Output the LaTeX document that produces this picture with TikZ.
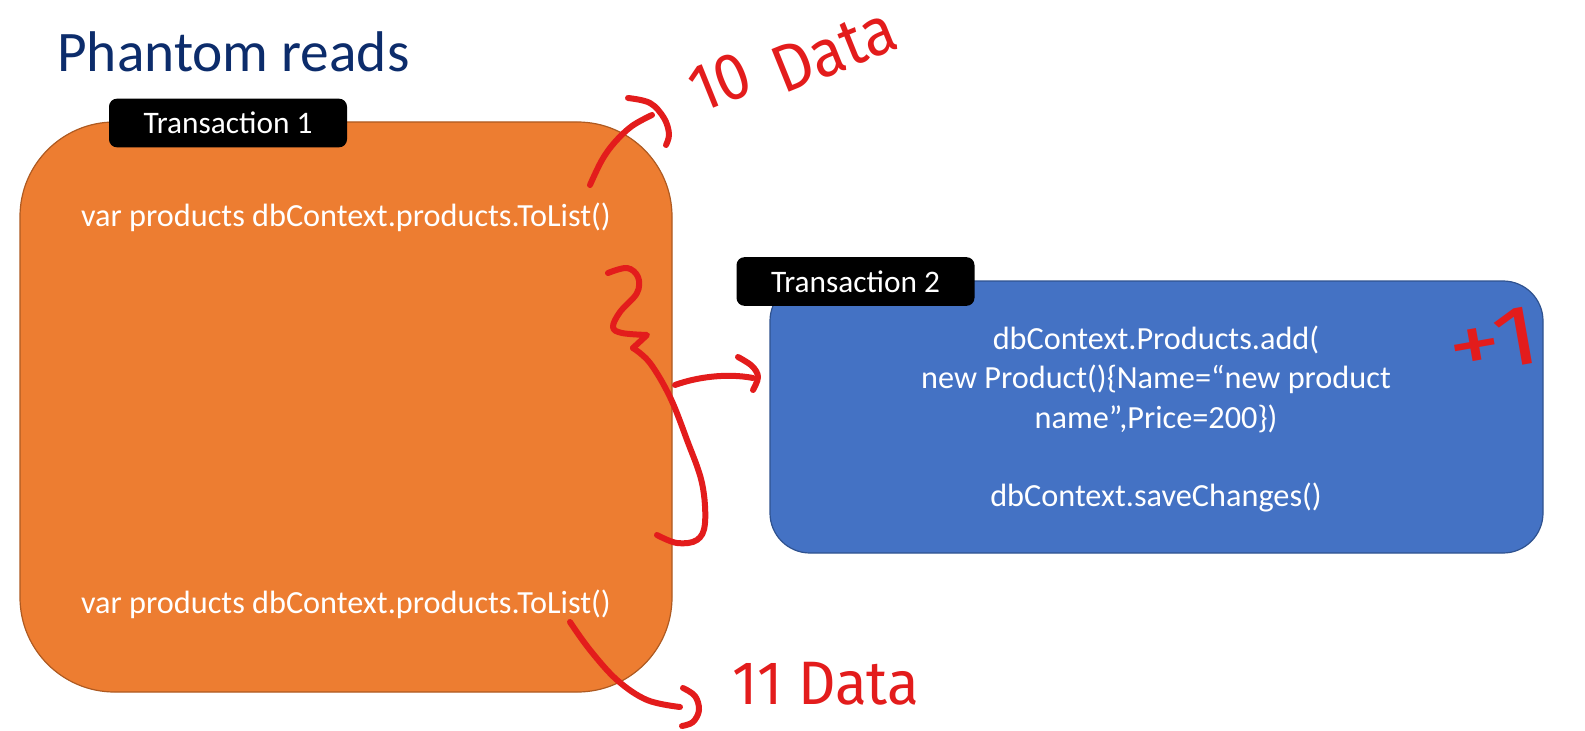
\documentclass[tikz,border=0pt]{standalone}
\usepackage{fontspec}
\setmainfont{Carlito}
\newfontfamily\handfont{Fira Sans}
\definecolor{orfill}{HTML}{ED7D31}
\definecolor{ordraw}{HTML}{AE5A21}
\definecolor{blfill}{HTML}{4472C4}
\definecolor{bldraw}{HTML}{2F528F}
\definecolor{titleblue}{HTML}{0C2C6B}
\definecolor{inkred}{HTML}{E31C1C}
\begin{document}
\begin{tikzpicture}[x=0.75pt,y=-0.75pt,
  ink/.style={draw=inkred,line width=4.5pt,line cap=round,line join=round},
  box/.style={inner sep=0pt,outer sep=0pt,line width=0.9pt},
  tag/.style={fill=black,text=white,rounded corners=6pt,inner sep=0pt,minimum width=178.5pt,minimum height=36.5pt,font=\fontsize{23.5}{28}\selectfont},
  code/.style={text=white,font=\fontsize{24.2}{29.5}\selectfont,align=center,inner sep=0pt},
  hand/.style={text=inkred,font=\handfont\fontsize{50}{50}\selectfont,inner sep=0pt}]
\useasboundingbox[fill=white] (0,0) rectangle (1585,731);
% boxes
\node[box,fill=orfill,draw=ordraw,rounded corners=71pt,minimum width=489pt,minimum height=427.5pt] (t1) at (346,407) {};
\node[box,fill=blfill,draw=bldraw,rounded corners=30pt,minimum width=579.75pt,minimum height=204pt] (t2) at (1156.5,417) {};
\node[tag] (l1) at (228,123) {Transaction 1};
\node[tag] (l2) at (855.5,281.5) {Transaction 2};
\node[anchor=base west,text=titleblue,font=\fontsize{43}{50}\selectfont,inner sep=0pt] (title) at (57,72) {Phantom reads};
% code texts
\node[code] (q1) at (346,217) {var products dbContext.products.ToList()};
\node[code] (q2) at (346,604) {var products dbContext.products.ToList()};
\node[code] (c1) at (1156,419) {dbContext.Products.add(\\new Product()\{Name=“new product\\name”,Price=200\})\\[29.5pt]dbContext.saveChanges()};
% handwritten notes
\node[hand,rotate=22,xscale=0.92] (n10a) at (720,82) {10};
\node[hand,rotate=22,xscale=0.92] (n10b) at (834,50) {Data};
\node[hand,xscale=0.95,font=\handfont\fontsize{46}{46}\selectfont] (n11) at (826,684) {11 Data};
\node[hand,rotate=10,xscale=1.25,font=\handfont\fontsize{64}{64}\selectfont] (p1) at (1494,341) {+1};
% stroke from first read to "10 Data"
\draw[ink] plot[smooth,tension=0.6] coordinates {(590,185) (602,160) (615,142) (632,126) (652,115)};
\draw[ink] plot[smooth,tension=0.6] coordinates {(628,98) (650,103) (664,118) (669,134) (666,145)};
% stroke from second read to "11 Data"
\draw[ink] plot[smooth,tension=0.6] coordinates {(570,622) (590,650) (617,680) (647,700) (680,707)};
\draw[ink] plot[smooth,tension=0.6] coordinates {(683,688) (695,696) (699,710) (693,722) (682,726)};
% brace
\draw[ink] plot[smooth,tension=0.6] coordinates {(608,273) (627,268) (638,277) (637,293) (620,312) (613,327) (622,333) (647,335)} -- (633,348);
\draw[ink] plot[smooth,tension=0.6] coordinates {(633,348) (650,363) (670,397) (687,440) (702,483) (705,523) (697,540) (677,543) (657,535)};
% arrow into transaction 2
\draw[ink] ([xshift=2.25pt,yshift=16.5pt]t1.east) .. controls (697,377) and (727,373) .. ([xshift=-12.75pt,yshift=29.25pt]t2.west);
\draw[ink] plot[smooth,tension=0.6] coordinates {(738,357) (752,366) (758,377) (753,390)};
\end{tikzpicture}
\end{document}
